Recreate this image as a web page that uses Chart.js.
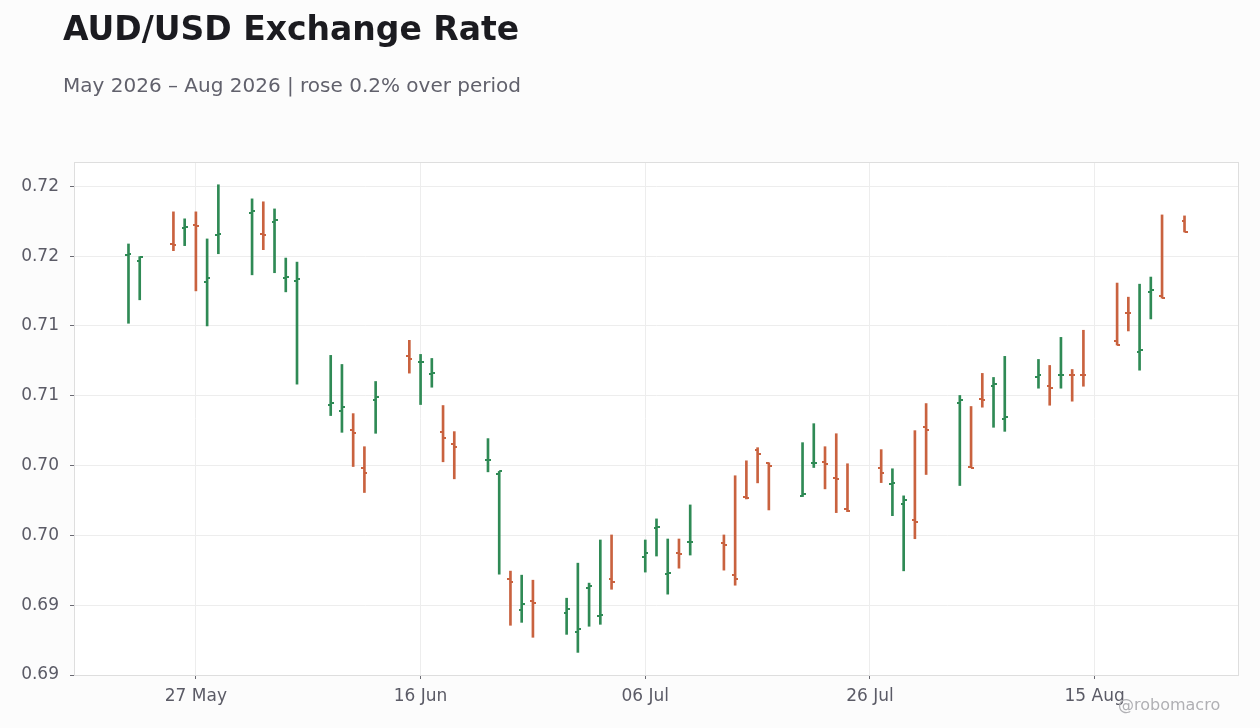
<!DOCTYPE html>
<html lang="en">
<head>
<meta charset="UTF-8">
<title>AUD/USD Exchange Rate</title>
<script src="https://cdn.jsdelivr.net/npm/chart.js"></script>
<style>
  body { margin: 0; background: #fcfcfc; font-family: 'DejaVu Sans', sans-serif; }
  .wrap { position: relative; width: 1260px; height: 728px; }
  .title { position: absolute; left: 63px; top: 12px; font-size: 33px; font-weight: bold; color: #1b1b20; line-height: 1; white-space: nowrap; }
  .subtitle { position: absolute; left: 63px; top: 75px; font-size: 20px; color: #61616c; line-height: 1; white-space: nowrap; }
  .credit { position: absolute; left: 1118px; top: 697px; font-size: 16px; color: #b0b0b4; line-height: 1; white-space: nowrap; }
  canvas { position: absolute; left: 0; top: 0; }
</style>
</head>
<body>
<div class="wrap">
  <canvas id="ohlc" width="1260" height="728"></canvas>
  <div class="title">AUD/USD Exchange Rate</div>
  <div class="subtitle">May 2026 – Aug 2026 | rose 0.2% over period</div>
  <div class="credit">@robomacro</div>
</div>

<script>
// daily OHLC
const dates = [
  '2026-05-21', '2026-05-22', '2026-05-25', '2026-05-26', '2026-05-27', '2026-05-28', '2026-05-29',
  '2026-06-01', '2026-06-02', '2026-06-03', '2026-06-04', '2026-06-05',
  '2026-06-08', '2026-06-09', '2026-06-10', '2026-06-11', '2026-06-12',
  '2026-06-15', '2026-06-16', '2026-06-17', '2026-06-18', '2026-06-19',
  '2026-06-22', '2026-06-23', '2026-06-24', '2026-06-25', '2026-06-26',
  '2026-06-29', '2026-06-30', '2026-07-01', '2026-07-02', '2026-07-03',
  '2026-07-06', '2026-07-07', '2026-07-08', '2026-07-09', '2026-07-10',
  '2026-07-13', '2026-07-14', '2026-07-15', '2026-07-16', '2026-07-17',
  '2026-07-20', '2026-07-21', '2026-07-22', '2026-07-23', '2026-07-24',
  '2026-07-27', '2026-07-28', '2026-07-29', '2026-07-30', '2026-07-31',
  '2026-08-03', '2026-08-04', '2026-08-05', '2026-08-06', '2026-08-07',
  '2026-08-10', '2026-08-11', '2026-08-12', '2026-08-13', '2026-08-14',
  '2026-08-17', '2026-08-18', '2026-08-19', '2026-08-20', '2026-08-21',
  '2026-08-23'
];
const opens = [
  0.72010, 0.71967, 0.72089, 0.72204, 0.72226, 0.71816, 0.72154,
  0.72310, 0.72161, 0.72247, 0.71842, 0.71823,
  0.70937, 0.70894, 0.70752, 0.70479, 0.70968,
  0.71284, 0.71241, 0.71155, 0.70738, 0.70652,
  0.70537, 0.70443, 0.69689, 0.69464, 0.69530,
  0.69442, 0.69305, 0.69622, 0.69420, 0.69689,
  0.69847, 0.70055, 0.69722, 0.69875, 0.69952,
  0.69947, 0.69717, 0.70278, 0.70608, 0.70515,
  0.70283, 0.70515, 0.70522, 0.70414, 0.70192,
  0.70486, 0.70369, 0.70228, 0.70113, 0.70774,
  0.70946, 0.70493, 0.70975, 0.71068, 0.70831,
  0.71133, 0.71068, 0.71146, 0.71148, 0.71148,
  0.71392, 0.71594, 0.71311, 0.71742, 0.71715,
  0.72254
];
const highs = [
  0.72087, 0.71996, 0.72317, 0.72267, 0.72317, 0.72123, 0.72511,
  0.72410, 0.72389, 0.72338, 0.71986, 0.71957,
  0.71289, 0.71224, 0.70872, 0.70635, 0.71102,
  0.71397, 0.71296, 0.71267, 0.70930, 0.70743,
  0.70693, 0.70458, 0.69744, 0.69715, 0.69679,
  0.69550, 0.69801, 0.69658, 0.69967, 0.70003,
  0.69967, 0.70118, 0.69974, 0.69974, 0.70218,
  0.70003, 0.70427, 0.70534, 0.70628, 0.70520,
  0.70664, 0.70800, 0.70635, 0.70728, 0.70513,
  0.70614, 0.70477, 0.70283, 0.70750, 0.70944,
  0.71002, 0.70923, 0.71160, 0.71131, 0.71282,
  0.71260, 0.71217, 0.71418, 0.71188, 0.71469,
  0.71807, 0.71706, 0.71799, 0.71850, 0.72295,
  0.72288
];
const lows = [
  0.71519, 0.71687, 0.72039, 0.72075, 0.71751, 0.71500, 0.72017,
  0.71866, 0.72046, 0.71881, 0.71744, 0.71083,
  0.70858, 0.70738, 0.70493, 0.70307, 0.70731,
  0.71162, 0.70937, 0.71061, 0.70527, 0.70405,
  0.70455, 0.69722, 0.69356, 0.69377, 0.69270,
  0.69291, 0.69162, 0.69349, 0.69363, 0.69614,
  0.69737, 0.69852, 0.69579, 0.69765, 0.69859,
  0.69751, 0.69643, 0.70261, 0.70376, 0.70182,
  0.70278, 0.70486, 0.70333, 0.70163, 0.70170,
  0.70378, 0.70141, 0.69746, 0.69976, 0.70436,
  0.70357, 0.70484, 0.70918, 0.70774, 0.70745,
  0.71054, 0.70932, 0.71054, 0.70961, 0.71068,
  0.71363, 0.71464, 0.71183, 0.71550, 0.71699,
  0.72173
];
const closes = [
  0.72012, 0.71996, 0.72082, 0.72211, 0.72218, 0.71845, 0.72156,
  0.72322, 0.72154, 0.72257, 0.71852, 0.71833,
  0.70946, 0.70918, 0.70736, 0.70448, 0.70989,
  0.71260, 0.71243, 0.71165, 0.70695, 0.70635,
  0.70539, 0.70458, 0.69665, 0.69509, 0.69514,
  0.69471, 0.69329, 0.69638, 0.69430, 0.69665,
  0.69875, 0.70062, 0.69730, 0.69866, 0.69955,
  0.69931, 0.69686, 0.70266, 0.70585, 0.70498,
  0.70299, 0.70517, 0.70513, 0.70405, 0.70175,
  0.70450, 0.70378, 0.70256, 0.70096, 0.70757,
  0.70968, 0.70484, 0.70973, 0.71086, 0.70846,
  0.71147, 0.71059, 0.71148, 0.71146, 0.71146,
  0.71363, 0.71592, 0.71327, 0.71758, 0.71699,
  0.72173
];

const yTicks = [0.690, 0.695, 0.700, 0.705, 0.710, 0.715, 0.720, 0.725];
const yTickLabels = ['0.69', '0.69', '0.70', '0.70', '0.71', '0.71', '0.72', '0.72'];
const xTickDates = ['2026-05-27', '2026-06-16', '2026-07-06', '2026-07-26', '2026-08-15'];
const xTickLabels = ['27 May', '16 Jun', '06 Jul', '26 Jul', '15 Aug'];

const UP = '#2f8a55';
const DOWN = '#c9623f';

// date string -> day number (no date adapter needed)
function day(s) {
    const p = s.split('-').map(Number);
    return Date.UTC(p[0], p[1] - 1, p[2]) / 86400000;
}

// small tick images: open sticks out left, close sticks out right
function tickImage(color, side) {
    const c = document.createElement('canvas');
    c.width = 6;
    c.height = 2;
    const g = c.getContext('2d');
    g.fillStyle = color;
    g.fillRect(side === 'left' ? 0 : 3, 0, 3, 2);
    return c;
}
const openUp = tickImage(UP, 'left'), openDown = tickImage(DOWN, 'left');
const closeUp = tickImage(UP, 'right'), closeDown = tickImage(DOWN, 'right');

const isUp = closes.map((c, i) => c >= opens[i]);
const barColors = isUp.map(u => u ? UP : DOWN);
const xs = dates.map(day);

const plotBox = {
    id: 'plotBox',
    beforeDraw(chart) {
        const a = chart.chartArea, ctx = chart.ctx;
        ctx.save();
        ctx.fillStyle = '#ffffff';
        ctx.fillRect(a.left, a.top, a.right - a.left, a.bottom - a.top);
        ctx.restore();
    },
    afterDraw(chart) {
        const a = chart.chartArea, ctx = chart.ctx;
        ctx.save();
        ctx.strokeStyle = '#dedede';
        ctx.lineWidth = 1;
        ctx.strokeRect(a.left + 0.5, a.top + 0.5, a.right - a.left - 1, a.bottom - a.top);
        ctx.restore();
    }
};

new Chart(document.getElementById('ohlc'), {
    type: 'bar',
    data: {
        datasets: [
            {
                label: 'High-Low',
                data: xs.map((x, i) => ({ x: x, y: [lows[i], highs[i]] })),
                backgroundColor: barColors,
                borderWidth: 0,
                barThickness: 2,
                order: 2
            },
            {
                type: 'scatter',
                label: 'Open',
                data: xs.map((x, i) => ({ x: x, y: opens[i] })),
                pointStyle: isUp.map(u => u ? openUp : openDown),
                order: 1
            },
            {
                type: 'scatter',
                label: 'Close',
                data: xs.map((x, i) => ({ x: x, y: closes[i] })),
                pointStyle: isUp.map(u => u ? closeUp : closeDown),
                order: 1
            }
        ]
    },
    options: {
        responsive: false,
        animation: false,
        events: [],
        layout: { padding: { top: 162, right: 21, left: 0, bottom: 0 } },
        plugins: {
            legend: { display: false },
            tooltip: { enabled: false }
        },
        scales: {
            x: {
                type: 'linear',
                offset: false,
                min: xs[0] - 4.85,
                max: xs[xs.length - 1] + 4.85,
                afterBuildTicks: scale => {
                    scale.ticks = xTickDates.map(d => ({ value: day(d) }));
                },
                afterFit: scale => { scale.height = 53; },
                grid: { offset: false, color: '#ededed', tickColor: '#6a6a72', tickLength: 4 },
                border: { display: false },
                ticks: {
                    autoSkip: false,
                    maxRotation: 0,
                    padding: 7,
                    color: '#5b5b66',
                    font: { family: 'DejaVu Sans', size: 17 },
                    callback: (v, i) => xTickLabels[i]
                }
            },
            y: {
                min: 0.69,
                max: 0.72674,
                afterBuildTicks: scale => {
                    scale.ticks = yTicks.map(v => ({ value: v }));
                },
                afterFit: scale => { scale.width = 74; },
                grid: { color: '#ededed', tickColor: '#6a6a72', tickLength: 4 },
                border: { display: false },
                ticks: {
                    padding: 11,
                    color: '#5b5b66',
                    font: { family: 'DejaVu Sans', size: 17 },
                    callback: (v, i) => yTickLabels[i]
                }
            }
        }
    },
    plugins: [plotBox]
});
</script>
</body>
</html>
